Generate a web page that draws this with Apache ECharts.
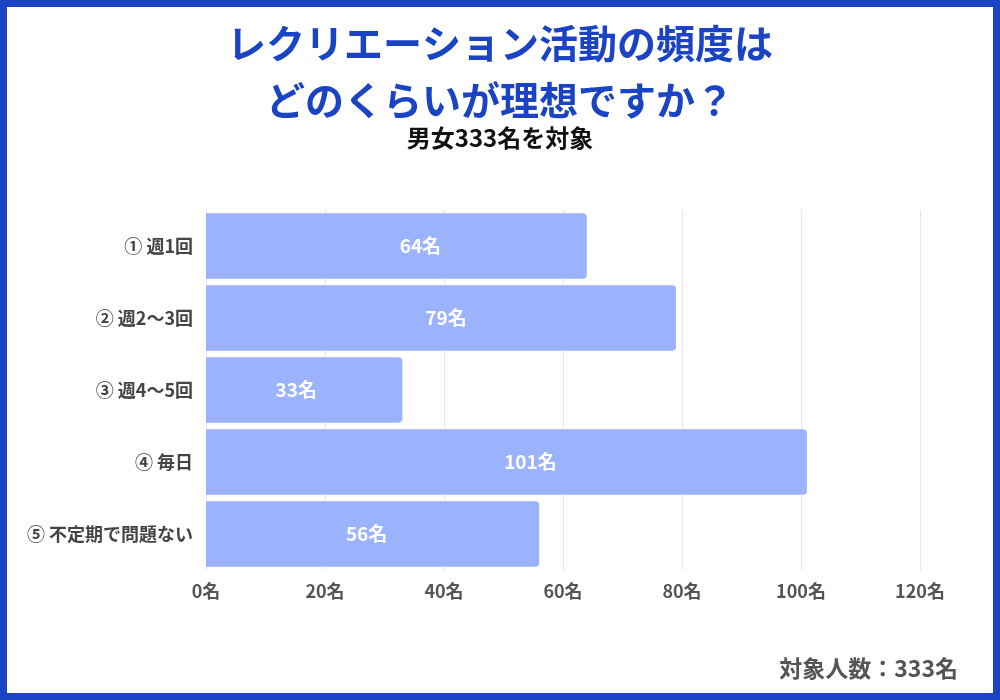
<!DOCTYPE html>
<html>
<head>
<meta charset="utf-8">
<script src="https://cdn.jsdelivr.net/npm/echarts@6/dist/echarts.min.js"></script>
<style>
  html, body { margin: 0; padding: 0; background: #fff; }
  #chart { width: 1000px; height: 700px; }
</style>
</head>
<body>
<div id="chart"></div>
<script>
// 回答の選択肢（上から順）
var categories = ['① 週1回', '② 週2〜3回', '③ 週4〜5回', '④ 毎日', '⑤ 不定期で問題ない'];
// 人数
var counts = [64, 79, 33, 101, 56];
// x軸の目盛り
var axisMin = 0;
var axisMax = 120;
var axisStep = 20;
// 元画像ではラベルが中央から少しずれている（px）
var labelNudge = [24, 5, -8, 24, -6];

var FONT = '"Noto Sans CJK JP", "Noto Sans", sans-serif';
var BLUE = '#1a44c4';

var chart = echarts.init(document.getElementById('chart'));

var option = {
    backgroundColor: '#fff',
    animation: false,
    title: [{
        text: 'レクリエーション活動の頻度は\nどのくらいが理想ですか？',
        left: 'center',
        top: 10,
        textStyle: {
            color: BLUE,
            fontFamily: FONT,
            fontSize: 39,
            fontWeight: 'bold',
            lineHeight: 57
        }
    }, {
        text: '男女333名を対象',
        left: 'center',
        top: 121,
        textStyle: {
            color: '#111',
            fontFamily: FONT,
            fontSize: 24,
            fontWeight: 'bold'
        }
    }],
    grid: {
        left: 206,
        right: 80,
        top: 210,
        bottom: 130
    },
    xAxis: {
        type: 'value',
        min: axisMin,
        max: axisMax,
        interval: axisStep,
        axisLine: { show: false },
        axisTick: { show: false },
        splitLine: { lineStyle: { color: '#e6e6e6', width: 1 } },
        axisLabel: {
            formatter: '{value}名',
            color: '#555',
            fontFamily: FONT,
            fontSize: 18,
            fontWeight: 'bold',
            margin: 12
        }
    },
    yAxis: {
        type: 'category',
        data: categories,
        inverse: true,
        axisLine: { show: false },
        axisTick: { show: false },
        axisLabel: {
            color: '#444',
            fontFamily: FONT,
            fontSize: 18,
            fontWeight: 'bold',
            margin: 13
        }
    },
    series: [{
        type: 'bar',
        data: counts.map(function (v, i) {
            return { value: v, label: { offset: [labelNudge[i], 0] } };
        }),
        barCategoryGap: '9%',
        itemStyle: {
            color: '#9bb3fd',
            borderRadius: [0, 4, 4, 0]
        },
        label: {
            show: true,
            position: 'inside',
            formatter: '{c}名',
            color: '#fff',
            fontFamily: FONT,
            fontSize: 19,
            fontWeight: 'bold'
        }
    }],
    graphic: [{
        type: 'rect',
        silent: true,
        shape: { x: 3.5, y: 3.5, width: 993, height: 693 },
        style: { fill: null, stroke: BLUE, lineWidth: 7 }
    }, {
        type: 'text',
        right: 42,
        top: 657,
        style: {
            text: '対象人数：333名',
            fill: '#555',
            font: 'bold 23px ' + FONT
        }
    }]
};

chart.setOption(option);
</script>
</body>
</html>
